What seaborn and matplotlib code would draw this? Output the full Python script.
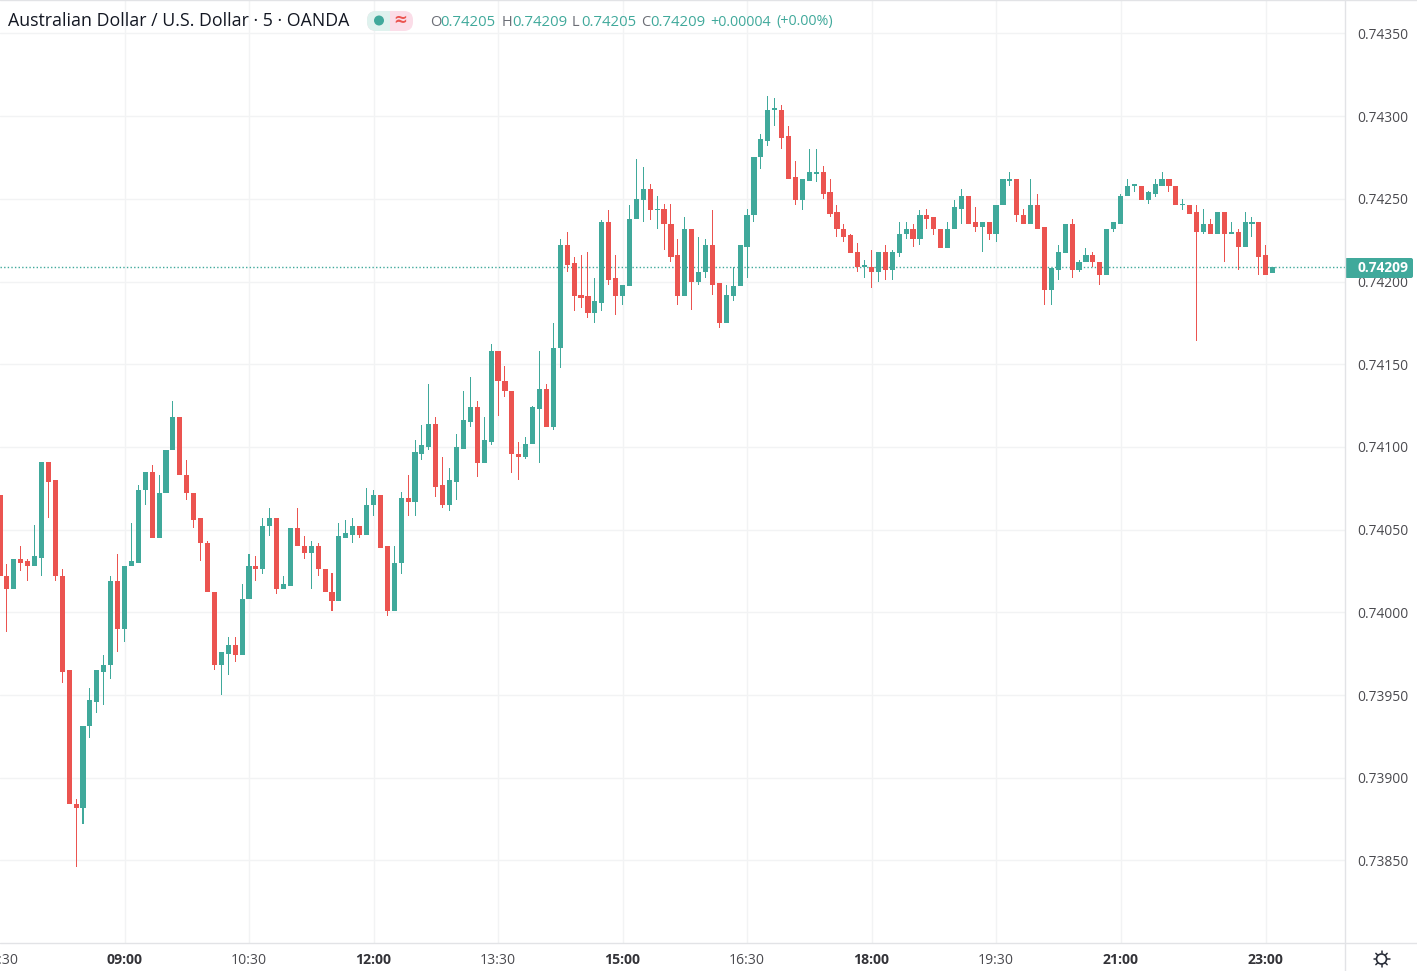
import matplotlib
matplotlib.use("Agg")
import matplotlib.pyplot as plt
from matplotlib.patches import Rectangle, FancyBboxPatch, Circle
import numpy as np
import pandas as pd
import seaborn as sns

# Prices in units of 0.00001 (five decimal FX quotes), one row per 5-minute bar
opens = [
 74071,74022,74014,74032,74031,74028,74033,74091,74080,74022,
 73965,73884,73882,73931,73946,73964,73968,74019,73990,74028,
 74030,74074,74085,74045,74072,74098,74118,74083,74072,74057,
 74042,74012,73968,73975,73980,73974,74008,74028,74026,74052,
 74057,74014,74016,74051,74040,74036,74040,74026,74012,74007,
 74045,74047,74052,74047,74065,74071,74040,74001,74030,74069,
 74067,74096,74100,74114,74077,74065,74079,74099,74115,74124,
 74090,74103,74158,74140,74134,74096,74094,74102,74123,74135,
 74112,74160,74222,74211,74192,74191,74181,74187,74236,74202,
 74191,74197,74238,74249,74256,74243,74244,74235,74216,74191,
 74232,74200,74206,74222,74199,74175,74191,74197,74221,74240,
 74275,74285,74304,74304,74288,74263,74249,74261,74265,74266,
 74254,74242,74232,74228,74218,74209,74209,74206,74218,74207,
 74217,74229,74232,74226,74240,74239,74232,74220,74232,74244,
 74252,74236,74233,74236,74229,74246,74261,74262,74240,74235,
 74246,74233,74195,74207,74217,74235,74207,74212,74216,74212,
 74204,74232,74235,74252,74258,74258,74249,74253,74258,74262,
 74258,74246,74246,74242,74230,74235,74229,74242,74229,74230,
 74221,74235,74236,74216,74205]
highs = [
 74071,74029,74032,74040,74032,74053,74091,74091,74080,74026,
 73965,73887,73931,73954,73965,73974,74022,74035,74028,74054,
 74077,74085,74089,74083,74098,74128,74118,74092,74072,74057,
 74043,74012,73976,73985,73985,74017,74035,74034,74057,74063,
 74057,74022,74051,74063,74046,74043,74042,74026,74024,74054,
 74056,74057,74052,74075,74074,74071,74040,74040,74073,74083,
 74104,74113,74138,74118,74094,74087,74108,74134,74142,74128,
 74118,74162,74158,74149,74134,74103,74106,74125,74158,74138,
 74175,74226,74230,74215,74216,74218,74202,74237,74243,74216,
 74198,74246,74274,74269,74259,74252,74247,74247,74226,74239,
 74232,74227,74226,74243,74199,74198,74209,74222,74244,74275,
 74289,74312,74311,74307,74294,74273,74262,74280,74280,74270,
 74262,74246,74235,74229,74223,74213,74219,74218,74222,74219,
 74236,74236,74235,74243,74244,74239,74232,74236,74249,74256,
 74252,74245,74236,74236,74246,74262,74266,74262,74244,74262,
 74253,74233,74208,74222,74235,74238,74213,74220,74218,74212,
 74232,74236,74253,74262,74259,74258,74255,74262,74266,74262,
 74258,74250,74246,74246,74244,74238,74242,74242,74236,74232,
 74242,74239,74236,74222,74209]
lows = [
 74022,73988,74014,74025,74019,74028,74022,74057,74019,73957,
 73884,73846,73872,73924,73939,73944,73960,73976,73982,74028,
 74030,74065,74045,74045,74072,74098,74083,74068,74051,74031,
 74012,73965,73950,73962,73970,73974,74008,74019,74023,74046,
 74011,74014,74016,74040,74032,74014,74022,74012,74001,74007,
 74045,74042,74045,74047,74058,74039,73998,74001,74023,74058,
 74058,74092,74098,74070,74063,74061,74068,74099,74112,74082,
 74090,74101,74119,74130,74084,74080,74093,74102,74090,74112,
 74110,74148,74206,74182,74184,74178,74175,74182,74198,74180,
 74186,74197,74238,74236,74237,74232,74219,74212,74186,74191,
 74183,74198,74202,74192,74172,74175,74188,74197,74202,74236,
 74268,74282,74294,74280,74262,74246,74243,74261,74260,74250,
 74239,74227,74224,74217,74206,74202,74196,74200,74201,74201,
 74215,74226,74221,74222,74232,74228,74220,74220,74232,74235,
 74235,74230,74218,74225,74224,74246,74258,74236,74235,74235,
 74232,74186,74186,74201,74217,74202,74206,74212,74209,74198,
 74204,74230,74235,74252,74254,74249,74247,74251,74258,74254,
 74246,74243,74241,74164,74229,74229,74229,74212,74229,74207,
 74221,74227,74204,74204,74205]
closes = [
 74022,74014,74032,74030,74028,74034,74091,74079,74022,73964,
 73884,73882,73931,73947,73965,73968,74019,73990,74028,74031,
 74074,74085,74045,74072,74098,74118,74083,74072,74056,74042,
 74012,73968,73976,73980,73974,74008,74028,74026,74052,74057,
 74014,74017,74051,74040,74036,74040,74026,74012,74007,74046,
 74048,74052,74047,74065,74071,74039,74001,74030,74069,74067,
 74097,74101,74114,74076,74065,74080,74100,74116,74124,74090,
 74104,74158,74140,74134,74096,74094,74102,74124,74135,74112,
 74160,74222,74210,74191,74190,74181,74188,74236,74201,74191,
 74198,74238,74250,74256,74243,74244,74235,74215,74191,74232,
 74200,74206,74222,74198,74175,74192,74197,74222,74240,74275,
 74286,74304,74305,74287,74262,74249,74262,74266,74266,74253,
 74241,74232,74227,74217,74209,74210,74206,74218,74207,74218,
 74229,74232,74226,74240,74238,74232,74220,74232,74245,74252,
 74235,74233,74236,74229,74246,74262,74262,74240,74235,74246,
 74232,74195,74208,74218,74235,74207,74212,74216,74212,74204,
 74232,74236,74252,74258,74259,74249,74254,74259,74262,74258,
 74246,74247,74241,74230,74235,74229,74242,74229,74230,74221,
 74236,74236,74215,74204,74209]

time_tick_bars = [0, 18, 36, 54, 72, 90, 108, 126, 144, 162, 183]
time_tick_labels = ["07:30", "09:00", "10:30", "12:00", "13:30", "15:00",
                    "16:30", "18:00", "19:30", "21:00", "23:00"]
bold_time_labels = {"09:00", "12:00", "15:00", "18:00", "21:00", "23:00"}
price_ticks = [0.7385, 0.7390, 0.7395, 0.7400, 0.7405, 0.7410,
               0.7415, 0.7420, 0.7425, 0.7430, 0.7435]
last_price = 0.74209

title_text = "Australian Dollar / U.S. Dollar · 5 · OANDA"
ohlc_labels = ["O", "H", "L", "C"]
ohlc_values = ["0.74205", "0.74209", "0.74205", "0.74209"]
change_text = "+0.00004"
change_pct = "(+0.00%)"

UP = "#40A99B"
DOWN = "#EB5450"
GRID = "#F2F3F4"
BORDER = "#E2E3E6"
TEXT = "#4A4A4F"
FONT = "Open Sans"

sns.set_theme(style="white")
plt.rcParams["font.family"] = [FONT, "DejaVu Sans"]

W, H = 1417, 971
fig = plt.figure(figsize=(W / 100, H / 100), dpi=100, facecolor="white")
ax = fig.add_axes([0, 28 / H, 1345 / W, 943 / H])

df = pd.DataFrame({"bar": np.arange(len(opens)),
                   "open": np.array(opens) / 1e5, "high": np.array(highs) / 1e5,
                   "low": np.array(lows) / 1e5, "close": np.array(closes) / 1e5})
df["body_low"] = df[["open", "close"]].min(axis=1)
df["body"] = (df["open"] - df["close"]).abs()
df["wick"] = df["high"] - df["low"]
df["rising"] = df["close"] >= df["open"]

for rising, colour in [(True, UP), (False, DOWN)]:
    sub = df[df["rising"] == rising]
    sns.barplot(data=sub, x="bar", y="wick", bottom=sub["low"].to_numpy(), native_scale=True,
                color=colour, saturation=1, errorbar=None, width=0.15, linewidth=0, ax=ax)
    sns.barplot(data=sub, x="bar", y="body", bottom=sub["body_low"].to_numpy(), native_scale=True,
                color=colour, saturation=1, errorbar=None, width=0.74, linewidth=0, ax=ax)

ax.set_xlim(0, 1345 / 6.917)
ax.set_ylim(0.738001, 0.743702)
ax.set_xlabel("")
ax.set_ylabel("")
ax.set_axisbelow(True)
ax.grid(True, color=GRID, linewidth=1)
for spine in ax.spines.values():
    spine.set_visible(False)

ax.set_xticks(time_tick_bars)
ax.set_xticklabels(time_tick_labels)
ax.xaxis.get_gridlines()[0].set_visible(False)
ax.yaxis.tick_right()
ax.set_yticks(price_ticks)
ax.set_yticklabels([f"{p:.5f}" for p in price_ticks])
ax.tick_params(axis="x", length=0, pad=7.5, labelsize=10.1, labelcolor="#333338")
ax.tick_params(axis="y", length=0, pad=8.5, labelsize=9.9, labelcolor=TEXT)
for lab in ax.get_xticklabels():
    if lab.get_text() in bold_time_labels:
        lab.set_fontweight("bold")
    else:
        lab.set_color(TEXT)

ax.axhline(last_price, color=UP, linewidth=1, linestyle=(0, (1, 1.6)), zorder=0.8)

# Overlay in pixel space for the chart frame, header and badge
ov = fig.add_axes([0, 0, 1, 1], facecolor="none")
ov.set_xlim(0, W)
ov.set_ylim(H, 0)
ov.axis("off")
ov.plot([0, W], [0.5, 0.5], color=BORDER, lw=1)
ov.plot([0, W], [943.5, 943.5], color=BORDER, lw=1)
ov.plot([1345, 1345], [0, H], color=BORDER, lw=1)

# last price badge
ov.add_patch(FancyBboxPatch((1345, 258), 68, 20, boxstyle="round,pad=0,rounding_size=2",
                            fc=UP, ec="none"))
ov.text(1358, 268, f"{last_price:.5f}", color="white", fontsize=9.9, fontweight="bold",
        va="center", ha="left")

# title
ov.text(8, 21.5, title_text, color="#131722", fontsize=12.8, va="center", ha="left")

# status pill
ov.add_patch(FancyBboxPatch((367, 11), 46, 20, boxstyle="round,pad=0,rounding_size=9",
                            fc="#FBDDE8", ec="none"))
left = FancyBboxPatch((367, 11), 46, 20, boxstyle="round,pad=0,rounding_size=9",
                      fc="#DFF2EE", ec="none")
ov.add_patch(left)
left.set_clip_path(Rectangle((367, 9), 23, 24, transform=ov.transData))
ov.add_patch(Circle((379, 20.5), 5, fc=UP, ec="none"))
ov.text(400, 19.5, "≈", color=DOWN, fontsize=12, fontweight="bold", ha="center", va="center",
        family="DejaVu Sans")

# OHLC legend
for label, value, xl, xv in zip(ohlc_labels, ohlc_values, [430, 502, 572, 641], [440, 512, 581, 650]):
    ov.text(xl, 22, label, color="#6b6e76", fontsize=10.5, va="center", ha="left")
    ov.text(xv, 22, value, color=UP, fontsize=10.7, va="center", ha="left")
ov.text(710, 22, change_text, color=UP, fontsize=10.3, va="center", ha="left")
ov.text(776, 22, change_pct, color=UP, fontsize=10.3, va="center", ha="left")

# settings icon
ov.add_patch(Circle((1381.5, 959), 5, fc="white", ec="#2a2e39", lw=1.2))
for a in np.arange(8) * np.pi / 4:
    ov.plot([1381.5 + 5.5 * np.cos(a), 1381.5 + 8 * np.cos(a)],
            [959 + 5.5 * np.sin(a), 959 + 8 * np.sin(a)], color="#2a2e39", lw=1.1)

fig.savefig("out.png", dpi=100, facecolor="white")
